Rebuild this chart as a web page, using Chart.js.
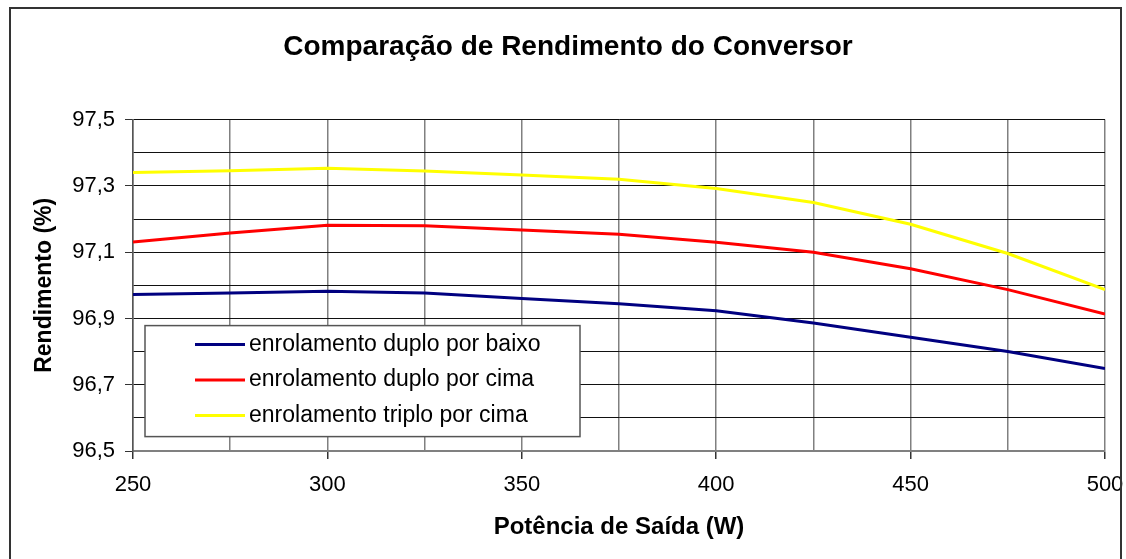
<!DOCTYPE html>
<html lang="pt">
<head>
    <meta charset="UTF-8">
    <title>Comparação de Rendimento do Conversor</title>
    <script src="https://cdn.jsdelivr.net/npm/chart.js"></script>
    <style>
        body {
            margin: 0;
            background-color: #fff;
        }
        #wrap {
            width: 1126px;
            height: 559px;
        }
    </style>
</head>
<body>
    <div id="wrap">
        <canvas id="rendimentoChart" width="1126" height="559"></canvas>
    </div>

    <script>
        // Potência de saída (W) e rendimento medido (%) de cada enrolamento
        const potencia = [250, 275, 300, 325, 350, 375, 400, 425, 450, 475, 500];
        const duploBaixo = [96.972, 96.977, 96.982, 96.977, 96.960, 96.944, 96.923, 96.886, 96.843, 96.800, 96.749];
        const duploCima = [97.131, 97.158, 97.181, 97.180, 97.167, 97.154, 97.130, 97.100, 97.050, 96.987, 96.913];
        const triploCima = [97.340, 97.346, 97.353, 97.345, 97.333, 97.320, 97.292, 97.250, 97.184, 97.096, 96.987];

        const seriesNames = ['enrolamento duplo por baixo', 'enrolamento duplo por cima', 'enrolamento triplo por cima'];
        const seriesColors = ['#000080', '#ff0000', '#ffff00'];

        const FONT = "'Liberation Sans', Arial, sans-serif";

        function toPoints(values) {
            return potencia.map((x, i) => ({ x: x, y: values[i] }));
        }

        // Outer frame around the whole chart
        const framePlugin = {
            id: 'frame',
            afterDraw(chart) {
                const ctx = chart.ctx;
                ctx.save();
                ctx.strokeStyle = '#333';
                ctx.lineWidth = 2;
                ctx.strokeRect(10, 8, 1111, 570);
                ctx.restore();
            }
        };

        // Boxed legend sitting inside the plot area, lower left
        const boxLegend = {
            id: 'boxLegend',
            afterDraw(chart) {
                const ctx = chart.ctx;
                const area = chart.chartArea;
                const x0 = area.left + 12;
                const y0 = area.top + 206;
                const w = 435;
                const h = 111;
                ctx.save();
                ctx.fillStyle = '#fff';
                ctx.fillRect(x0, y0, w, h);
                ctx.strokeStyle = '#555';
                ctx.lineWidth = 1.5;
                ctx.strokeRect(x0, y0, w, h);
                ctx.font = '23px ' + FONT;
                ctx.textBaseline = 'middle';
                ctx.textAlign = 'left';
                chart.data.datasets.forEach((ds, i) => {
                    const y = y0 + 19 + i * 35.5;
                    ctx.strokeStyle = ds.borderColor;
                    ctx.lineWidth = 3;
                    ctx.beginPath();
                    ctx.moveTo(x0 + 50, y);
                    ctx.lineTo(x0 + 100, y);
                    ctx.stroke();
                    ctx.fillStyle = '#000';
                    ctx.fillText(ds.label, x0 + 104, y);
                });
                ctx.restore();
            }
        };

        const ctx = document.getElementById('rendimentoChart').getContext('2d');
        const chart = new Chart(ctx, {
            type: 'line',
            data: {
                datasets: [duploBaixo, duploCima, triploCima].map((vals, i) => ({
                    label: seriesNames[i],
                    data: toPoints(vals),
                    borderColor: seriesColors[i],
                    backgroundColor: seriesColors[i],
                    borderWidth: 3,
                    pointRadius: 0,
                    tension: 0,
                    fill: false
                }))
            },
            options: {
                responsive: false,
                devicePixelRatio: 1,
                animation: false,
                layout: {
                    padding: { left: 31, right: 21, top: 0, bottom: 0 }
                },
                plugins: {
                    legend: { display: false },
                    tooltip: { enabled: false },
                    title: {
                        display: true,
                        text: 'Comparação de Rendimento do Conversor',
                        color: '#000',
                        font: { family: FONT, size: 28, weight: 'bold' },
                        padding: { top: 30, bottom: 56 }
                    }
                },
                scales: {
                    x: {
                        type: 'linear',
                        min: 250,
                        max: 500,
                        afterFit(scale) {
                            scale.height = 108;
                            scale.paddingLeft = 0;
                            scale.paddingRight = 0;
                        },
                        ticks: {
                            stepSize: 25,
                            autoSkip: false,
                            maxRotation: 0,
                            color: '#000',
                            padding: 13,
                            font: { family: FONT, size: 22 },
                            callback: v => (v % 50 === 0 ? String(v) : '')
                        },
                        grid: {
                            color: '#808080',
                            lineWidth: 1.5,
                            tickLength: 8,
                            tickColor: c => (c.tick && c.tick.value % 50 === 0 ? '#333' : 'rgba(0,0,0,0)')
                        },
                        border: { color: '#808080', width: 2 },
                        title: {
                            display: true,
                            text: 'Potência de Saída (W)',
                            color: '#000',
                            font: { family: FONT, size: 24, weight: 'bold' },
                            padding: { top: 0, bottom: 17 }
                        }
                    },
                    y: {
                        min: 96.5,
                        max: 97.5,
                        afterFit(scale) { scale.width = 102; },
                        ticks: {
                            stepSize: 0.1,
                            autoSkip: false,
                            color: '#000',
                            padding: 10,
                            font: { family: FONT, size: 22 },
                            callback: v => (Math.round(v * 10) % 2 === 1 ? v.toFixed(1).replace('.', ',') : '')
                        },
                        grid: {
                            color: '#111',
                            lineWidth: 1,
                            tickLength: 8,
                            tickColor: c => (c.tick && Math.round(c.tick.value * 10) % 2 === 1 ? '#333' : 'rgba(0,0,0,0)')
                        },
                        border: { color: '#555', width: 1.5 },
                        title: {
                            display: true,
                            text: 'Rendimento (%)',
                            color: '#000',
                            font: { family: FONT, size: 23, weight: 'bold' },
                            padding: { top: 0, bottom: 0 }
                        }
                    }
                }
            },
            plugins: [framePlugin, boxLegend]
        });
    </script>
</body>
</html>
